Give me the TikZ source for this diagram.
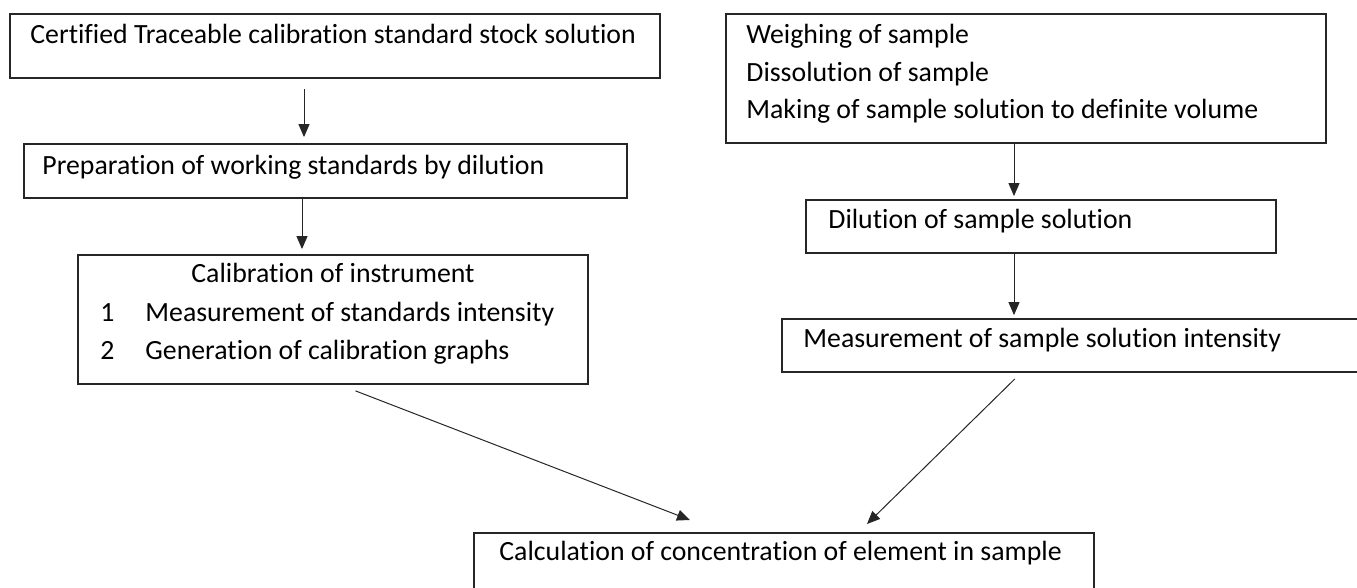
\documentclass[tikz,border=0pt]{standalone}
\usepackage{fontspec}
\setmainfont{Carlito}[Ligatures={NoCommon}]
\usetikzlibrary{arrows.meta,fit}

\tikzset{
  box/.style={draw=black!85, line width=0.9pt, inner sep=0pt},
  txt/.style={anchor=base west, inner sep=0pt, font=\fontsize{13.9}{16}\selectfont},
  arr/.style={-{Triangle[length=6.5pt,width=5.5pt]}, line width=0.5pt, draw=black!85},
}

\begin{document}
\begin{tikzpicture}[x=0.5pt,y=-0.5pt]
    \useasboundingbox (0,0) rectangle (1357,588);

    % standards side
    \node[box, fit={(10,14) (660,78)}] (stock) {};
    \node[txt] (stocktxt) at (30,44) {Certified Traceable calibration standard stock solution};

    \node[box, fit={(24,144) (627,198)}] (prep) {};
    \node[txt] (preptxt) at (42,175) {Preparation of working standards by dilution};

    \node[box, fit={(78,255) (588,384)}] (calib) {};
    \node[txt, anchor=base] (calibtxt) at (333,283) {Calibration of instrument};
    \node[txt] (calibone) at (100,322) {1};
    \node[txt] (calibonetxt) at (145,322) {Measurement of standards intensity};
    \node[txt] (calibtwo) at (100,360) {2};
    \node[txt] (calibtwotxt) at (145,360) {Generation of calibration graphs};

    % sample side
    \node[box, fit={(726,14) (1326,143)}] (weigh) {};
    \node[txt] (weighone) at (746,44) {Weighing of sample};
    \node[txt] (weightwo) at (746,82) {Dissolution of sample};
    \node[txt] (weighthree) at (746,119) {Making of sample solution to definite volume};

    \node[box, fit={(806,200) (1276,253)}] (dil) {};
    \node[txt] (diltxt) at (828,229) {Dilution of sample solution};

    \node[box, fit={(782,319) (1372,372)}] (meas) {};
    \node[txt] (meastxt) at (803,348) {Measurement of sample solution intensity};

    % result
    \node[box, fit={(474,533) (1094,600)}] (calc) {};
    \node[txt] (calctxt) at (499,561) {Calculation of concentration of element in sample};

    \coordinate (colL) at (304,0);
    \coordinate (colM) at (302,0);
    \coordinate (colR) at (1014,0);
    \coordinate (sL) at (340,0);
    \coordinate (sR) at (1021,0);
    \coordinate (tipL) at (690,520);
    \coordinate (tipR) at (867,524);

    \draw[arr, shorten <=5pt, shorten >=3pt] (stock.south -| colL) -- (prep.north -| colL);
    \draw[arr, shorten >=2.5pt] (prep.south -| colM) -- (calib.north -| colM);
    \draw[arr, shorten >=1.5pt] (weigh.south -| colR) -- (dil.north -| colR);
    \draw[arr, shorten >=1.5pt] (dil.south -| colR) -- (meas.north -| colR);
    \draw[arr, shorten <=8.3pt] (calib.south -| sL) -- (tipL);
    \draw[arr, shorten <=4.3pt] (meas.south -| sR) -- (tipR);
\end{tikzpicture}
\end{document}
